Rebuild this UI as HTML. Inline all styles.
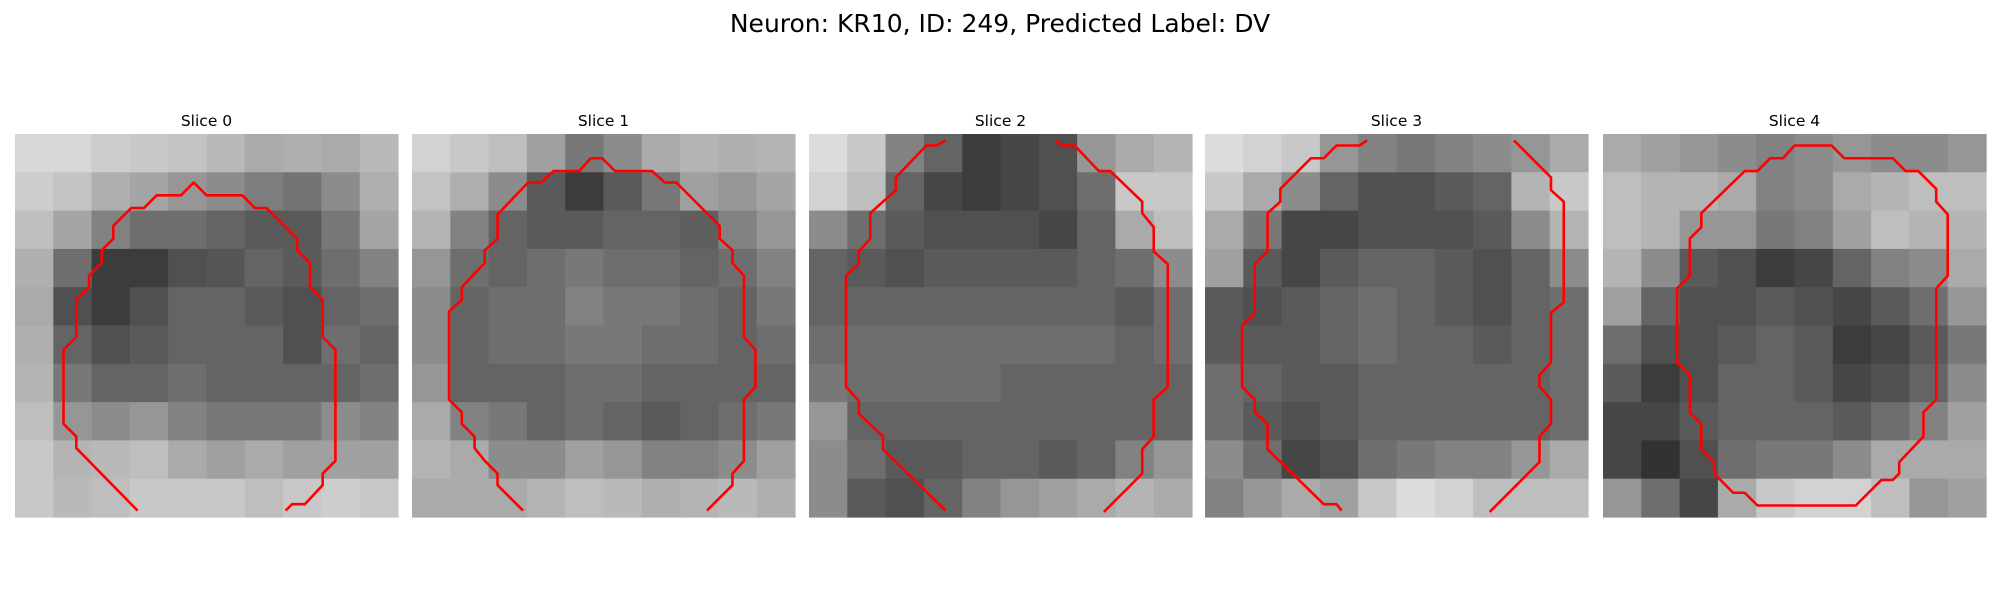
<!DOCTYPE html>
<html><head><meta charset="utf-8"><style>
html,body{margin:0;padding:0;background:#fff;}
svg{display:block;font-family:"DejaVu Sans","Liberation Sans",sans-serif;}
</style></head><body>
<svg id="fig" width="2000" height="600" viewBox="0 0 2000 600">
<text x="1000" y="32" text-anchor="middle" font-size="25" fill="#000">Neuron: KR10, ID: 249, Predicted Label: DV</text>
</svg>
<script>
const sliceTitles = ["Slice 0","Slice 1","Slice 2","Slice 3","Slice 4"];
const gridCells = 30;
// coarse intensity maps (10x10 blocks, 0=black 255=white)
const intensity0 = [
[215,215,205,200,195,185,170,175,170,185],[205,195,175,165,150,140,125,115,140,175],
[190,165,130,110,110,100,90,90,120,165],[175,110,60,60,80,85,100,90,110,130],
[170,80,60,80,100,100,90,80,100,110],[175,100,80,90,100,100,100,80,110,100],
[180,120,100,100,110,100,100,100,100,110],[190,150,140,150,130,120,120,120,140,130],
[200,180,185,190,170,160,170,160,160,160],[200,185,190,200,200,200,190,200,205,200]];
const intensity1 = [
[210,200,190,160,120,140,170,180,175,180],[195,175,140,90,60,90,120,160,150,165],
[180,130,100,90,90,100,100,95,130,150],[150,110,100,110,120,110,110,100,110,130],
[140,100,110,110,130,120,120,110,100,120],[140,100,110,110,120,120,110,110,100,110],
[150,100,100,100,110,110,100,100,100,100],[170,130,120,100,110,100,90,100,110,120],
[180,170,140,140,160,150,130,130,140,160],[170,170,170,180,190,185,175,180,185,175]];
const intensity2 = [
[220,200,130,100,60,70,80,150,170,180],[210,190,100,70,60,70,80,110,200,200],
[140,110,90,80,80,80,70,100,170,190],[100,90,80,90,90,90,90,100,110,140],
[100,100,100,100,100,100,100,100,90,110],[110,110,110,110,110,110,110,110,100,110],
[120,110,110,110,110,100,100,100,100,100],[150,100,100,100,100,100,100,100,100,100],
[140,110,90,90,100,100,90,100,130,150],[140,90,80,100,130,150,160,170,180,170]];
const intensity3 = [
[220,210,200,150,130,120,130,140,150,170],[200,170,140,100,80,80,90,100,180,200],
[170,120,70,70,80,80,80,90,140,180],[160,90,70,90,100,100,90,80,100,140],
[90,80,90,100,110,100,90,80,100,110],[90,90,90,100,110,100,100,90,100,110],
[110,100,90,90,100,100,100,100,100,110],[110,90,80,90,100,100,100,100,100,110],
[140,110,70,80,110,120,130,130,150,170],[130,150,170,160,200,220,210,190,190,190]];
const intensity4 = [
[170,160,150,140,130,140,150,140,140,150],[190,180,180,170,130,140,170,180,190,190],
[190,180,150,150,120,130,160,190,180,180],[180,140,90,80,60,70,100,130,140,170],
[160,100,80,80,90,80,70,90,110,150],[110,80,80,90,100,90,60,70,90,120],
[90,60,80,100,100,90,70,80,100,140],[70,70,90,100,100,100,90,110,130,160],
[70,50,80,110,120,120,140,170,170,170],[150,110,70,170,200,210,210,190,150,160]];
// contours in cell units [x,y]
const contour0 = [[9.6,29.5],[4.8,24.6],[4.8,23.7],[3.8,22.7],[3.8,16.9],[4.8,15.9],[4.8,13],[5.8,12],[5.8,11.1],[6.8,10.1],[6.8,9.1],[7.7,8.2],[7.7,7.2],[9.1,5.8],[10.1,5.8],[11.1,4.8],[13,4.8],[14,3.8],[15,4.8],[17.8,4.8],[18.8,5.8],[19.7,5.8],[22.1,8.2],[22.1,9.1],[23.1,10.1],[23.1,12],[24.1,13],[24.1,15.9],[25.1,16.9],[25.1,25.6],[24.1,26.6],[24.1,27.5],[22.7,29],[21.7,29],[21.2,29.5]];
const contour1 = [[8.7,29.5],[6.7,27.5],[6.7,26.6],[5.7,25.6],[4.9,24.6],[4.9,23.7],[3.9,22.7],[3.9,21.8],[2.9,20.8],[2.9,13.9],[3.9,13],[3.9,12],[5.7,10.1],[5.7,9.1],[6.7,8.2],[6.7,6.3],[9.1,3.8],[10.1,3.8],[11.1,2.9],[13.1,2.9],[14,1.9],[14.9,1.9],[15.9,2.9],[18.8,2.9],[19.8,3.8],[20.7,3.8],[24.1,7.2],[24.1,8.2],[25.1,9.1],[25.1,10.1],[26,11.1],[26,15.9],[26.9,16.9],[26.9,19.8],[26,20.8],[26,25.6],[25.1,26.6],[25.1,27.5],[23.1,29.5]];
const contour2a = [[10.7,29.5],[5.8,24.7],[5.8,23.7],[3.9,21.9],[3.9,20.9],[2.9,19.8],[2.9,11.1],[3.9,10.2],[3.9,9.2],[4.8,8.2],[4.8,6.2],[6.8,4.4],[6.8,3.4],[9.2,0.9],[10,0.9],[10.7,0.5]];
const contour2b = [[19.3,0.5],[19.8,0.9],[20.8,0.9],[22.7,2.9],[23.6,2.9],[26.1,5.3],[26.1,6.2],[27,7.3],[27,9.2],[28.1,10.2],[28.1,19.8],[27,20.8],[27,23.7],[26.1,24.7],[26.1,26.6],[25.1,27.6],[23.1,29.6]];
const contour3a = [[10.7,29.5],[10.3,29],[9.3,29],[4.9,24.7],[4.9,22.7],[3.9,21.8],[3.9,20.8],[2.9,19.8],[2.9,15],[3.9,14],[3.9,10.2],[4.9,9.2],[4.9,6.2],[5.9,5.3],[5.9,4.3],[8.3,1.9],[9.3,1.9],[10.3,0.9],[12.1,0.9],[12.7,0.5]];
const contour3b = [[24.2,0.5],[27.1,3.4],[27.1,4.4],[28.1,5.3],[28.1,13.2],[27.1,14],[27.1,17.9],[26.2,18.9],[26.2,19.8],[27.1,20.8],[27.1,22.7],[26.2,23.7],[26.2,25.7],[22.3,29.6]];
const contour4 = [[15,0.9],[17.9,0.9],[18.9,1.9],[22.7,1.9],[23.7,2.9],[24.7,2.9],[26.1,4.3],[26.1,5.3],[27,6.3],[27,11.1],[26.1,12.1],[26.1,20.8],[25.1,21.8],[25.1,23.7],[23.2,25.7],[23.2,26.6],[22.7,27.1],[21.8,27.1],[19.8,29.1],[12.1,29.1],[11.1,28.1],[10.2,28.1],[8.7,26.6],[8.7,25.7],[7.7,24.7],[7.7,22.7],[6.8,21.8],[6.8,18.9],[5.8,17.9],[5.8,12.1],[6.8,11.1],[6.8,8.2],[7.7,7.3],[7.7,6.2],[11.1,2.9],[12.1,2.9],[13.1,1.9],[14.1,1.9],[15,0.9]];

const maps=[intensity0,intensity1,intensity2,intensity3,intensity4];
const contours=[[contour0],[contour1],[contour2a,contour2b],[contour3a,contour3b],[contour4]];
const NS="http://www.w3.org/2000/svg";
const svg=document.getElementById('fig');
const panelX=[15,412,809,1205,1603], panelY=134, panelSize=383;
function sx(p,v){return panelX[p]+v*panelSize/gridCells;}
function sy(v){return panelY+v*panelSize/gridCells;}
maps.forEach((m,p)=>{
  const g=document.createElementNS(NS,'g');
  
  
  svg.appendChild(g);
  const bs=gridCells/m.length;
  m.forEach((row,r)=>row.forEach((v,c)=>{
    const rc=document.createElementNS(NS,'rect');
    rc.setAttribute('x',sx(p,c*bs));rc.setAttribute('y',sy(r*bs));
    rc.setAttribute('width',panelSize/gridCells*bs+0.6);rc.setAttribute('height',panelSize/gridCells*bs+0.6);
    rc.setAttribute('fill','rgb('+v+','+v+','+v+')');
    
    
    g.appendChild(rc);
  }));
  contours[p].forEach(cn=>{
    const pl=document.createElementNS(NS,'polyline');
    pl.setAttribute('points',cn.map(q=>sx(p,q[0])+','+sy(q[1])).join(' '));
    pl.setAttribute('fill','none');pl.setAttribute('stroke','#ff0000');pl.setAttribute('stroke-width','2.6');
    pl.setAttribute('stroke-linejoin','round');
    
    
    g.appendChild(pl);
  });
  const t=document.createElementNS(NS,'text');
  t.setAttribute('x',panelX[p]+panelSize/2);t.setAttribute('y',126);
  t.setAttribute('text-anchor','middle');t.setAttribute('font-size','15.5');
  t.textContent=sliceTitles[p];
  
  
  svg.appendChild(t);
});
</script>
</body></html>
